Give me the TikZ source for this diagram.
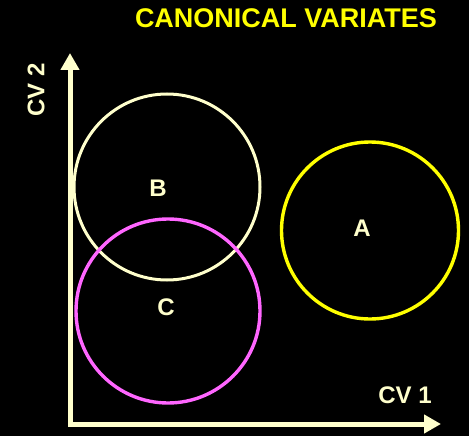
\documentclass[tikz,border=0pt]{standalone}
\usepackage{fontspec}
\setmainfont{Liberation Sans}
\usetikzlibrary{arrows.meta}
\definecolor{cream}{HTML}{FFFFCC}
\definecolor{yel}{HTML}{FFFF00}
\definecolor{mag}{HTML}{FF66FF}
\begin{document}
\begin{tikzpicture}[x=1pt,y=-1pt,
  lbl/.style={inner sep=0pt,font=\bfseries\fontsize{24}{24}\selectfont,text=cream},
  ring/.style={circle,draw,line width=3.4pt,inner sep=0pt},
  axis/.style={draw=cream,line width=5pt,{Triangle[width=18pt,length=17pt]}-{Triangle[width=18pt,length=17pt]}}]
\fill[black] (0,0) rectangle (469,436);
\useasboundingbox (0,0) rectangle (469,436);
\node[inner sep=0pt,font=\bfseries\fontsize{27}{27}\selectfont,text=yel] (title) at (286,18) {CANONICAL VARIATES};
\coordinate (ytop) at (70,53);
\coordinate (origin) at (70,424);
\coordinate (xend) at (441,424);
\path[axis] (ytop) -- (origin) -- (xend);
\node[lbl,rotate=90] (cv2) at (36,90) {CV 2};
\node[lbl] (cv1) at (405,395) {CV 1};
\node[ring,draw=cream,line width=3pt,minimum size=186pt] (B) at (167,187) {};
\node[ring,draw=mag,minimum size=184pt] (C) at (168,311) {};
\node[ring,draw=yel,minimum size=177pt] (A) at (370,230.5) {};
\node[lbl] (lB) at (158,188) {B};
\node[lbl] (lC) at (166,307) {C};
\node[lbl] (lA) at (362,228) {A};
\end{tikzpicture}
\end{document}
